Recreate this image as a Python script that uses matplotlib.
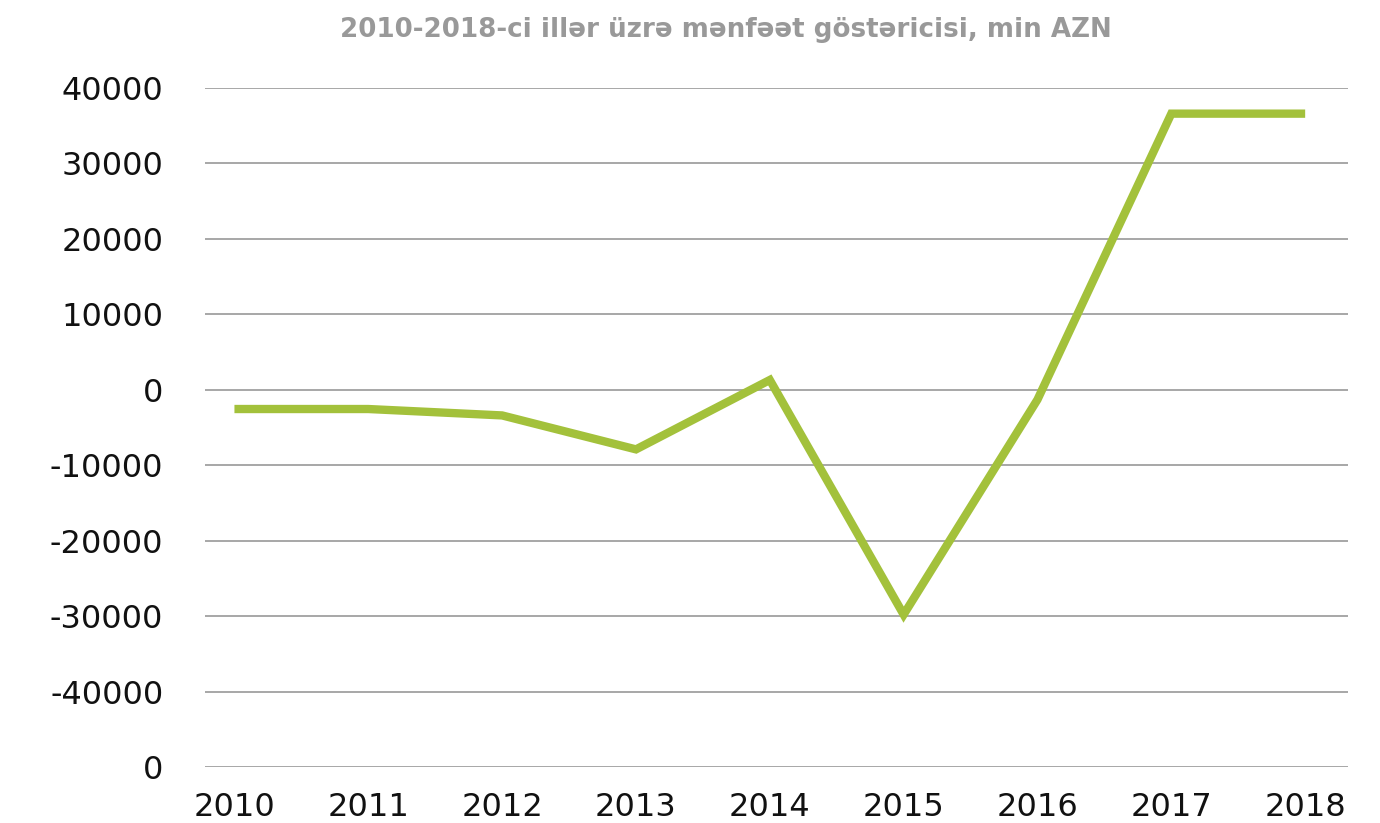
import matplotlib
matplotlib.use("Agg")
import matplotlib.pyplot as plt

# data
years = ["2010", "2011", "2012", "2013", "2014", "2015", "2016", "2017", "2018"]
profit = [-2550, -2550, -3400, -7900, 1300, -29800, -1300, 36600, 36600]

y_ticks = [40000, 30000, 20000, 10000, 0, -10000, -20000, -30000, -40000, -50000]
y_labels = ["40000", "30000", "20000", "10000", "0", "-10000", "-20000", "-30000", "-40000", "0"]

title = "2010-2018-ci illər üzrə mənfəət göstəricisi, min AZN"

plt.rcParams['font.family'] = ['DejaVu Sans']

fig = plt.figure(figsize=(13.8, 8.23), dpi=100)
ax = fig.add_axes([205 / 1380, 1 - 767 / 823, (1348 - 205) / 1380, (767 - 88) / 823])

x = list(range(len(years)))
ax.plot(x, profit, color="#A3C13B", linewidth=6, solid_joinstyle="miter", solid_capstyle="butt", zorder=3)

ax.set_ylim(-50000, 40000)
ax.set_xlim(-0.22, 8.32)
ax.set_yticks(y_ticks)
ax.set_yticklabels(y_labels)
ax.set_xticks(x)
ax.set_xticklabels(years)

ax.grid(axis="y", color="#8f8f8f", linewidth=1.1)
ax.set_axisbelow(True)
for s in ax.spines.values():
    s.set_visible(False)
ax.tick_params(axis="y", length=0, pad=30, labelsize=23, labelcolor="#111111")
ax.tick_params(axis="x", length=0, pad=18, labelsize=23, labelcolor="#111111")

fig.text(726 / 1380, 1 - 30 / 823, title, ha="center", va="center",
         fontsize=18.8, fontweight="bold", color="#999999")

fig.savefig("out.png", dpi=100)
